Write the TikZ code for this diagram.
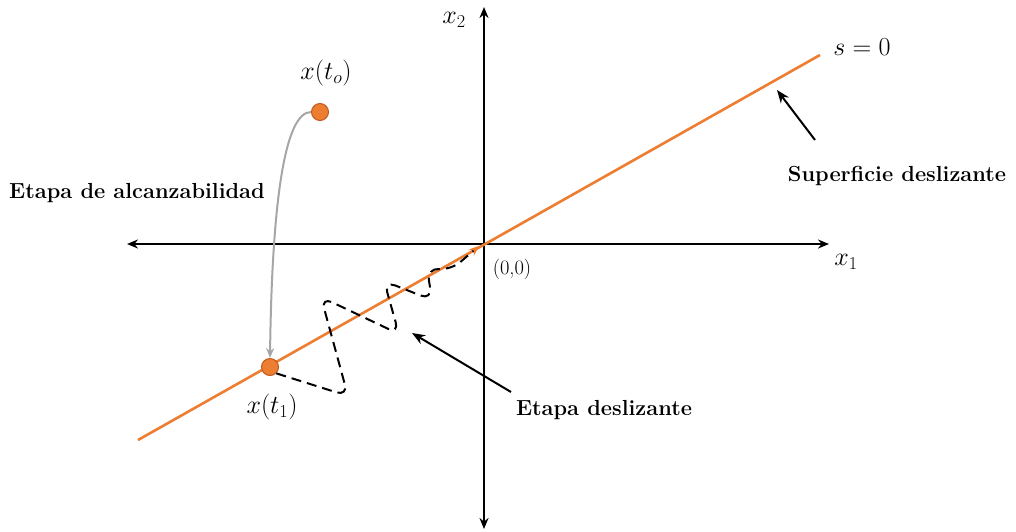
\RequirePackage{fix-cm}
\documentclass[tikz,border=0pt]{standalone}
\usepackage{fontspec}
\usetikzlibrary{arrows.meta}
\definecolor{ornge}{HTML}{ED7D31}
\definecolor{orngedk}{HTML}{C05A1C}
\definecolor{grayc}{HTML}{A6A6A6}
\begin{document}
\begin{tikzpicture}[x=1pt,y=-1pt,
  axis/.style={line width=2pt,{Stealth[length=11pt,width=9pt]}-{Stealth[length=11pt,width=9pt]}},
  pointer/.style={line width=2pt,-{Stealth[length=13pt,width=10pt]}},
  dot/.style={circle,fill=ornge,draw=orngedk,line width=1pt,minimum size=17pt,inner sep=0pt},
  boldlbl/.style={font=\fontsize{21.8}{25}\selectfont\bfseries,inner sep=0pt},
  mathlbl/.style={font=\fontsize{26}{30}\selectfont,inner sep=0pt}]
\useasboundingbox (0,0) rectangle (1016,531);
% axes
\coordinate (ytop) at (484,7);
\coordinate (ybot) at (484,529);
\coordinate (xl) at (127,244);
\coordinate (xr) at (829,244);
\draw[axis] (ybot) -- (ytop);
\draw[axis] (xl) -- (xr);
% sliding surface
\coordinate (s0) at (138,440);
\coordinate (s1) at (820,55);
\draw[ornge,line width=2.6pt] (s0) -- (s1);
% labels
\node[mathlbl] (lx2) at (454,20) {$x_2$};
\node[mathlbl] (lx1) at (846,262) {$x_1$};
\node[mathlbl] (ls) at (862,47) {$s=0$};
\node[font=\fontsize{20.5}{24}\selectfont,inner sep=0pt] (lo) at (512,269) {(0,0)};
\node[boldlbl] (sup) at (897,176) {Superficie deslizante};
\node[boldlbl] (alc) at (137,193) {Etapa de alcanzabilidad};
\node[boldlbl] (des) at (604,410) {Etapa deslizante};
% points
\node[dot] (t0) at (320,112) {};
\node[dot] (t1) at (270,367) {};
\node[mathlbl] (lt0) at (326,73) {$x(t_o)$};
\node[mathlbl] (lt1) at (272,407) {$x(t_1)$};
% reaching trajectory
\draw[grayc,line width=2pt,-{Stealth[length=10pt,width=8pt]}] (t0.west) .. controls (285,112) and (272,200) .. (t1.north);
% sliding trajectory
\coordinate (tend) at (479,246);
\draw[black,line width=2pt,dash pattern=on 10pt off 6pt,rounded corners=12pt,-{Stealth[length=10pt,width=8pt,color=ornge]}]
  (t1.south east) -- (348,396) -- (321,297) -- (399,334) -- (384,281) -- (432,300) -- (427,268) -- (451,270) -- (tend);
% pointers
\coordinate (p1s) at (815,140);
\coordinate (p1e) at (777,90);
\draw[pointer] (p1s) -- (p1e);
\coordinate (p2s) at (511,392);
\coordinate (p2e) at (412,333);
\draw[pointer] (p2s) -- (p2e);
\end{tikzpicture}
\end{document}
